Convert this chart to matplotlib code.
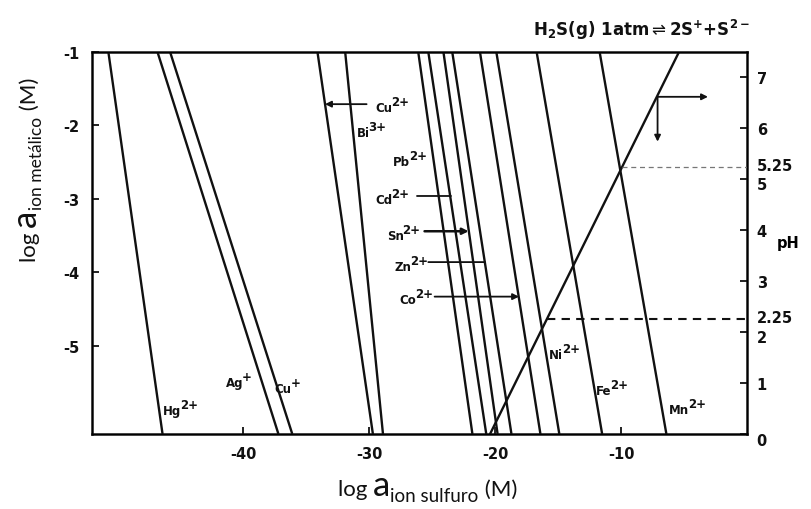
import matplotlib
matplotlib.use("Agg")
import matplotlib.pyplot as plt
import matplotlib.transforms as mtransforms

# ---- data ----
ions = ["Hg", "Ag", "Cu", "Cu", "Bi", "Pb", "Cd", "Sn", "Zn", "Co", "Ni", "Fe", "Mn"]
charges = ["2+", "+", "+", "2+", "3+", "2+", "2+", "2+", "2+", "2+", "2+", "2+", "2+"]
# log a(sulfide) where each solubility line meets log a(metal) = -1 and = -6.2
logS_at_top = [-50.7, -46.8, -45.8, -34.1, -31.9, -26.1, -25.3, -24.1, -23.4, -21.2, -19.9, -16.7, -11.7]
logS_at_bottom = [-46.4, -37.2, -36.1, -29.7, -28.9, -21.8, -20.7, -19.8, -18.7, -16.4, -14.9, -11.5, -6.4]
logM_top = -1.0
logM_bottom = -6.2

# H2S(g) 1 atm line: log a(S2-) against pH
h2s_logS = [-20.4, -5.4]
h2s_pH = [0.0, 7.5]

# reference pH levels (dashed)
ref_pH = [5.25, 2.25]
ref_logS_start = [-9.9, -15.9]

x_ticks = [-40, -30, -20, -10]
y_ticks = [-1, -2, -3, -4, -5]
pH_ticks = [0, 1, 2, 2.25, 3, 4, 5, 5.25, 6, 7]
pH_ticklabels = ["0", "1", "2", "2.25", "3", "4", "5", "5.25", "6", "7"]

# ---- figure ----
W, H = 812, 510
fig = plt.figure(figsize=(W / 100, H / 100), dpi=100)
fig.patch.set_facecolor("white")
ax = fig.add_axes([92 / W, (H - 435) / H, 655 / W, 382 / H])
ax.set_xlim(-52, 0)
ax.set_ylim(logM_bottom, logM_top)

ink = "#111111"
for xt, xb in zip(logS_at_top, logS_at_bottom):
    ax.plot([xt, xb], [logM_top, logM_bottom], color=ink, lw=1.7, solid_capstyle="butt")

tick_font = dict(family="DejaVu Sans", weight="bold", size=10.5)
ax.set_xticks(x_ticks)
ax.set_xticklabels([str(v) for v in x_ticks], **tick_font)
ax.set_yticks(y_ticks)
ax.set_yticklabels([str(v) for v in y_ticks], **tick_font)
ax.tick_params(axis="both", direction="in", length=5, width=1.3, colors=ink, pad=9)
for sp in ax.spines.values():
    sp.set_linewidth(1.8)
    sp.set_color(ink)

# right pH axis
ax2 = ax.twinx()
ax2.set_ylim(0, 7.5)
ax2.plot(h2s_logS, h2s_pH, color=ink, lw=1.7)
ax2.plot([ref_logS_start[0], 0], [ref_pH[0], ref_pH[0]], color="#777777", lw=0.9, ls=(0, (4, 3)))
ax2.plot([ref_logS_start[1], 0], [ref_pH[1], ref_pH[1]], color=ink, lw=1.5, ls=(0, (4, 3)))
ax2.set_yticks(pH_ticks)
ax2.set_yticklabels(pH_ticklabels, **tick_font)
ax2.tick_params(axis="y", direction="in", length=5, width=1.3, colors=ink, pad=7)
label_shift = {0: -5, 2: -4, 2.25: 3, 5: -4, 5.25: 3}
for tk, lab, v in zip(ax2.yaxis.get_major_ticks(), ax2.get_yticklabels(), pH_ticks):
    if v in ref_pH:
        tk.tick2line.set_visible(False)
        tk.tick1line.set_visible(False)
    if v in label_shift:
        off = mtransforms.ScaledTranslation(0, label_shift[v] / 100, fig.dpi_scale_trans)
        lab.set_transform(lab.get_transform() + off)
ax2.text((788 - 92) / 655, 0.50, "pH", transform=ax.transAxes, ha="center", va="center", **tick_font)

# pointer lines from labels
arrow_kw = dict(arrowstyle="-|>", color=ink, lw=1.3, mutation_scale=9, shrinkA=0, shrinkB=0)
line_kw = dict(arrowstyle="-", color=ink, lw=1.3, shrinkA=0, shrinkB=0)
ax.annotate("", xy=(-33.5, -1.71), xytext=(-30.2, -1.71), arrowprops=arrow_kw)
ax.annotate("", xy=(-23.5, -2.96), xytext=(-26.2, -2.96), arrowprops=line_kw)
ax.annotate("", xy=(-22.1, -3.44), xytext=(-25.6, -3.44), arrowprops=dict(arrow_kw, lw=1.8))
ax.annotate("", xy=(-20.8, -3.86), xytext=(-25.3, -3.86), arrowprops=line_kw)
ax.annotate("", xy=(-18.1, -4.33), xytext=(-24.8, -4.33), arrowprops=arrow_kw)
# arrows at top right
ax.annotate("", xy=(-3.1, -1.61), xytext=(-7.1, -1.61), arrowprops=arrow_kw)
ax.annotate("", xy=(-7.1, -2.22), xytext=(-7.1, -1.61), arrowprops=arrow_kw)

# title reaction
fig.text(750 / W, 1 - 30 / H, r"H$_\mathbf{2}$S(g) 1atm$\rightleftharpoons$2S$^\mathbf{+}$+S$^\mathbf{2-}$",
         ha="right", va="center", fontsize=12, fontweight="bold", family="DejaVu Sans", color=ink)

fig.canvas.draw()
renderer = fig.canvas.get_renderer()
px = mtransforms.IdentityTransform()

# ion labels (base + superscript), anchored in data coordinates
label_pos = [(-46.4, -5.93), (-41.4, -5.54), (-37.5, -5.63), (-29.5, -1.80), (-31.0, -2.14),
             (-28.1, -2.54), (-29.5, -3.06), (-28.6, -3.54), (-28.0, -3.97), (-27.6, -4.42),
             (-15.7, -5.16), (-12.0, -5.65), (-6.2, -5.92)]
for ion, ch, (lx, ly) in zip(ions, charges, label_pos):
    x0, y0 = ax.transData.transform((lx, ly))
    t = fig.text(x0, y0, ion, transform=px, fontsize=8.5, fontweight="bold", family="DejaVu Sans",
                 ha="left", va="baseline", color=ink)
    w = t.get_window_extent(renderer).width
    fig.text(x0 + w - 1, y0 + 6, ch, transform=px, fontsize=8.5, fontweight="bold",
             family="DejaVu Sans", ha="left", va="baseline", color=ink)

# composite axis labels
lab_font = "Lato"


def compose(pieces, x0, y0, vertical=False):
    pos = 0.0
    for txt, size, off in pieces:
        if vertical:
            t = fig.text(x0 - off, y0 + pos, txt, transform=px, fontsize=size, family=lab_font,
                         rotation=90, rotation_mode="anchor", ha="left", va="baseline", color=ink)
            pos += t.get_window_extent(renderer).height
        else:
            t = fig.text(x0 + pos, y0 + off, txt, transform=px, fontsize=size, family=lab_font,
                         ha="left", va="baseline", color=ink)
            pos += t.get_window_extent(renderer).width


compose([("log ", 16, 0), ("a", 25, 0), ("ion sulfuro", 13.5, -6), (" (M)", 16, 0)], 338, 14)
compose([("log ", 16, 0), ("a", 25, 0), ("ion metálico", 12.5, -6), (" (M)", 16, 0)], 36, 248, vertical=True)

fig.savefig("out.png", dpi=100, facecolor="white")
